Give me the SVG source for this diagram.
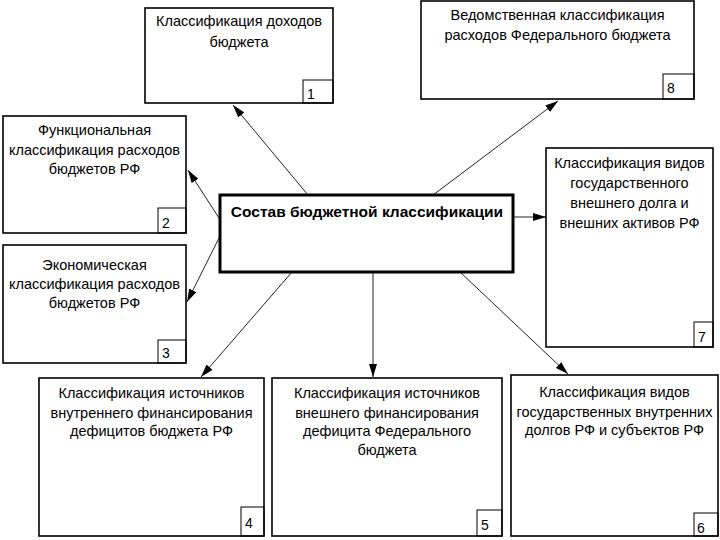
<svg xmlns="http://www.w3.org/2000/svg" width="720" height="540" viewBox="0 0 720 540">
<defs>
<style>
.box{fill:#fff;stroke:#000;stroke-width:1.6}
.num{fill:none;stroke:#000;stroke-width:1}
.t{font-family:"Liberation Sans",Arial,sans-serif;font-size:14.5px;fill:#000;text-anchor:middle}
.n{font-family:"Liberation Sans",Arial,sans-serif;font-size:14px;fill:#000}
.c{fill:none;stroke:#222;stroke-width:1}
</style>
<marker id="ah" markerUnits="userSpaceOnUse" markerWidth="14" markerHeight="8" refX="13" refY="4" orient="auto">
<path d="M0,0 L13,4 L0,8 z" fill="#000"/>
</marker>
</defs>
<rect width="720" height="540" fill="#fff"/>
<g id="connectors">
<line class="c" x1="308" y1="195" x2="233" y2="105" marker-end="url(#ah)"/>
<line class="c" x1="219" y1="218" x2="188" y2="170" marker-end="url(#ah)"/>
<line class="c" x1="219" y1="238" x2="187" y2="302" marker-end="url(#ah)"/>
<line class="c" x1="433" y1="195" x2="558" y2="101" marker-end="url(#ah)"/>
<line class="c" x1="513" y1="217" x2="546" y2="217" marker-end="url(#ah)"/>
<line class="c" x1="292" y1="272" x2="201" y2="377" marker-end="url(#ah)"/>
<line class="c" x1="373" y1="272" x2="373" y2="377" marker-end="url(#ah)"/>
<line class="c" x1="460" y1="272" x2="568" y2="374" marker-end="url(#ah)"/>
</g>
<g id="center">
<rect x="220" y="195" width="293" height="77" fill="#fff" stroke="#000" stroke-width="3"/>
<text x="367" y="217" font-family="Liberation Sans,Arial,sans-serif" font-size="15.5" font-weight="bold" text-anchor="middle">Состав бюджетной классификации</text>
</g>
<g id="node1">
<rect class="box" x="145" y="8" width="188" height="95"/>
<rect class="num" x="303" y="80" width="30" height="23"/>
<text class="t" x="239" y="26">Классификация доходов</text>
<text class="t" x="239" y="47">бюджета</text>
<text class="n" x="307" y="99">1</text>
</g>
<g id="node8">
<rect class="box" x="421" y="1" width="273" height="98"/>
<rect class="num" x="663" y="74" width="31" height="25"/>
<text class="t" x="557.5" y="20">Ведомственная классификация</text>
<text class="t" x="557.5" y="40">расходов Федерального бюджета</text>
<text class="n" x="667" y="93">8</text>
</g>
<g id="node2">
<rect class="box" x="3" y="116" width="183" height="117"/>
<rect class="num" x="158" y="208" width="28" height="25"/>
<text class="t" x="94.5" y="135">Функциональная</text>
<text class="t" x="94.5" y="155">классификация расходов</text>
<text class="t" x="94.5" y="174">бюджетов РФ</text>
<text class="n" x="162" y="228">2</text>
</g>
<g id="node3">
<rect class="box" x="3" y="245" width="183" height="118"/>
<rect class="num" x="158" y="340" width="28" height="23"/>
<text class="t" x="94.5" y="270">Экономическая</text>
<text class="t" x="94.5" y="289">классификация расходов</text>
<text class="t" x="94.5" y="308">бюджетов РФ</text>
<text class="n" x="162" y="358">3</text>
</g>
<g id="node7">
<rect class="box" x="546" y="148" width="167" height="199"/>
<rect class="num" x="694" y="322" width="19" height="25"/>
<text class="t" x="629.5" y="168">Классификация видов</text>
<text class="t" x="629.5" y="188">государственного</text>
<text class="t" x="629.5" y="208">внешнего долга  и</text>
<text class="t" x="629.5" y="228">внешних активов РФ</text>
<text class="n" x="698" y="342">7</text>
</g>
<g id="node4">
<rect class="box" x="39" y="378" width="225" height="158"/>
<rect class="num" x="241" y="507" width="23" height="29"/>
<text class="t" x="151.5" y="398">Классификация источников</text>
<text class="t" x="151.5" y="418">внутреннего финансирования</text>
<text class="t" x="151.5" y="436">дефицитов бюджета РФ</text>
<text class="n" x="245" y="528">4</text>
</g>
<g id="node5">
<rect class="box" x="272" y="378" width="230" height="158"/>
<rect class="num" x="477" y="510" width="25" height="26"/>
<text class="t" x="387" y="398">Классификация источников</text>
<text class="t" x="387" y="418">внешнего финансирования</text>
<text class="t" x="387" y="436">дефицита Федерального</text>
<text class="t" x="387" y="455">бюджета</text>
<text class="n" x="481" y="530">5</text>
</g>
<g id="node6">
<rect class="box" x="511" y="375" width="207" height="161"/>
<rect class="num" x="694" y="513" width="24" height="23"/>
<text class="t" x="614.5" y="397">Классификация видов</text>
<text class="t" x="614.5" y="417">государственных внутренних</text>
<text class="t" x="614.5" y="435">долгов РФ и субъектов РФ</text>
<text class="n" x="697" y="533">6</text>
</g>
</svg>
